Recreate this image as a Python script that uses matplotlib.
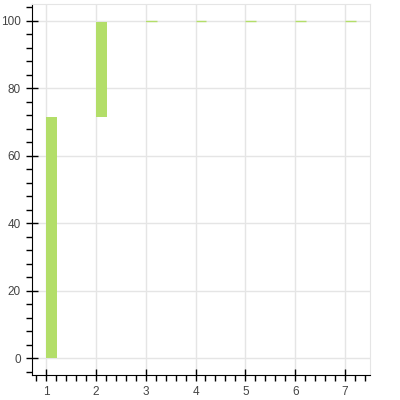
import matplotlib
matplotlib.use("Agg")
import matplotlib.pyplot as plt
import numpy as np
from matplotlib.ticker import MultipleLocator

plt.rcParams['font.family'] = ['Liberation Sans', 'DejaVu Sans']

# step values (cumulative waterfall)
steps = [1, 2, 3, 4, 5, 6, 7]
values = [71.5, 28.3, 0.05, 0.05, 0.04, 0.03, 0.03]

bottoms = np.concatenate([[0], np.cumsum(values)[:-1]])

fig = plt.figure(figsize=(4, 4), dpi=100)
ax = fig.add_axes([0.08, 0.0625, 0.845, 0.9275])

ax.bar(steps, values, bottom=bottoms, width=0.22, align='edge',
       color='#b3de69', linewidth=0, zorder=3)
# keep very small steps visible as thin lines
for s, b, v in zip(steps, bottoms, values):
    if v < 1:
        ax.hlines(b + v, s, s + 0.22, color='#b3de69', linewidth=1, zorder=3)

ax.set_xlim(0.72, 7.5)
ax.set_ylim(-5, 105)

ax.xaxis.set_major_locator(MultipleLocator(1))
ax.xaxis.set_minor_locator(MultipleLocator(0.2))
ax.yaxis.set_major_locator(MultipleLocator(20))
ax.yaxis.set_minor_locator(MultipleLocator(4))

ax.grid(True, which='major', color='#e5e5e5', linewidth=1, zorder=0)
ax.set_axisbelow(True)

for side in ['top', 'right']:
    ax.spines[side].set_color('#e5e5e5')
for side in ['left', 'bottom']:
    ax.spines[side].set_color('black')

ax.tick_params(which='major', direction='inout', length=8, width=1,
               labelsize=8.5, labelcolor='#444444', pad=4)
ax.tick_params(which='minor', direction='out', length=4, width=1)
ax.tick_params(top=False, right=False, which='both')

fig.savefig("out.png", dpi=100)
